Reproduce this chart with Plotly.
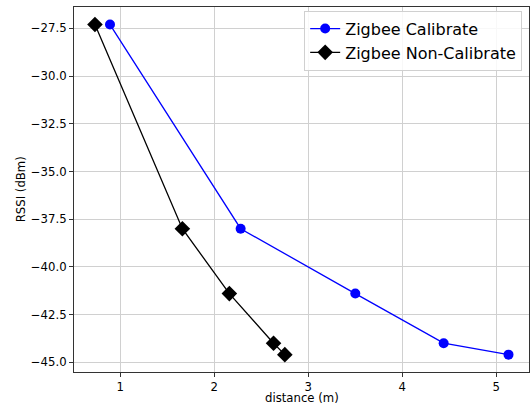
import plotly.graph_objects as go

cal_x = [0.89, 2.28, 3.50, 4.44, 5.13]
cal_y = [-27.3, -38.0, -41.4, -44.0, -44.6]
non_x = [0.73, 1.66, 2.16, 2.63, 2.75]
non_y = [-27.3, -38.0, -41.4, -44.0, -44.6]
x_ticks = [1, 2, 3, 4, 5]
y_ticks = [-27.5, -30.0, -32.5, -35.0, -37.5, -40.0, -42.5, -45.0]

fig = go.Figure()
fig.add_trace(go.Scatter(x=cal_x, y=cal_y, mode="lines+markers", name="Zigbee Calibrate",
                         line=dict(color="blue", width=1.3),
                         marker=dict(symbol="circle", size=10, color="blue")))
fig.add_trace(go.Scatter(x=non_x, y=non_y, mode="lines+markers", name="Zigbee Non-Calibrate",
                         line=dict(color="black", width=1.3),
                         marker=dict(symbol="diamond", size=12, color="black")))

axis_common = dict(showline=True, linecolor="#333", linewidth=1, mirror=True,
                   showgrid=True, gridcolor="#d0d0d0", gridwidth=1, automargin=False,
                   ticks="outside", ticklen=4, tickcolor="#333", zeroline=False,
                   tickfont=dict(family="DejaVu Sans", size=11.7, color="black"))
fig.update_xaxes(range=[0.507, 5.348], tickvals=x_ticks, ticktext=[str(v) for v in x_ticks],
                 **axis_common)
fig.update_yaxes(range=[-45.51, -26.38], tickvals=y_ticks, ticktext=[f"\u2212{abs(v):.1f}" for v in y_ticks],
                 **axis_common)
fig.add_annotation(text="distance (m)", x=0.5, y=-0.071, xref="paper", yref="paper",
                   xanchor="center", yanchor="middle", showarrow=False,
                   font=dict(family="DejaVu Sans", size=11.7, color="black"))
fig.add_annotation(text="RSSI (dBm)", x=-0.117, y=0.5, xref="paper", yref="paper",
                   xanchor="center", yanchor="middle", showarrow=False, textangle=-90,
                   font=dict(family="DejaVu Sans", size=11.7, color="black"))
fig.update_layout(width=530, height=407, margin=dict(l=74, r=1, t=7, b=35),
                  plot_bgcolor="white", paper_bgcolor="white",
                  font=dict(family="DejaVu Sans", color="black"),
                  legend=dict(x=0.985, y=0.99, xanchor="right", yanchor="top",
                              bgcolor="rgba(255,255,255,0.85)", bordercolor="#d0d0d0", borderwidth=1,
                              font=dict(family="DejaVu Sans", size=16, color="black"),
                              tracegroupgap=0, itemwidth=30))
fig.write_html("out.html", config={"displayModeBar": False},
               post_script="document.body.style.margin='0';document.body.style.overflow='hidden';")
